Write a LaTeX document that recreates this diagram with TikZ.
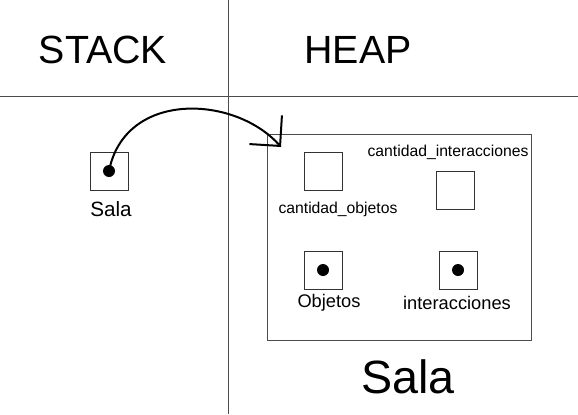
\documentclass[tikz,border=0pt]{standalone}
\usepackage{fontspec}
\setmainfont{Liberation Sans}
\usetikzlibrary{arrows.meta}

\begin{document}
\begin{tikzpicture}[x=0.75pt,y=-0.75pt]
\tikzstyle{cell}=[draw=black!80, rectangle, minimum size=28.5pt, inner sep=0pt]
\tikzstyle{ref}=[fill=black, circle, minimum size=9pt, inner sep=0pt]
\tikzstyle{title}=[font=\fontsize{29.5}{31}\selectfont]
\tikzstyle{var}=[font=\fontsize{13.7}{15}\selectfont]
\tikzstyle{field}=[font=\fontsize{11.8}{13}\selectfont]

\useasboundingbox (0,0) rectangle (578,414);

% divisions
\draw[black!70] (228,0) -- (228,414);
\draw[black!70] (0,96) -- (578,96);
\draw (103,50) node[title] (stack) {STACK};
\draw (358,50) node[title] (heap) {HEAP};

% stack
\draw (109,171) node[cell] (salavar) {};
\draw (salavar.center) node[ref] (salaref) {};
\draw (111,209) node[font=\fontsize{15.5}{17}\selectfont] (salalbl) {Sala};

% heap object
\draw[black!70] (267,134) rectangle (531,340);
\draw (323,171) node[cell] (cantobj) {};
\draw (338,209) node[field] (cantobjlbl) {cantidad\_objetos};
\draw (455,190) node[cell] (cantint) {};
\draw (448,152) node[field] (cantintlbl) {cantidad\_interacciones};
\draw (323,270) node[cell] (objetos) {};
\draw (objetos.center) node[ref] {};
\draw (329,303) node[var] (objetoslbl) {Objetos};
\draw (458,270) node[cell] (inter) {};
\draw (inter.center) node[ref] {};
\draw (457,303) node[var] (interlbl) {interacciones};
\draw (408,377) node[font=\fontsize{35}{38}\selectfont] (heaplbl) {Sala};

% reference
\coordinate (tip) at (281,147);
\draw[line width=1.5pt, -{Straight Barb[angle=90:23pt, line width=1.5pt, line join=miter]}]
  (salaref.center) .. controls (125,90) and (235,95) .. (tip);
\end{tikzpicture}
\end{document}
